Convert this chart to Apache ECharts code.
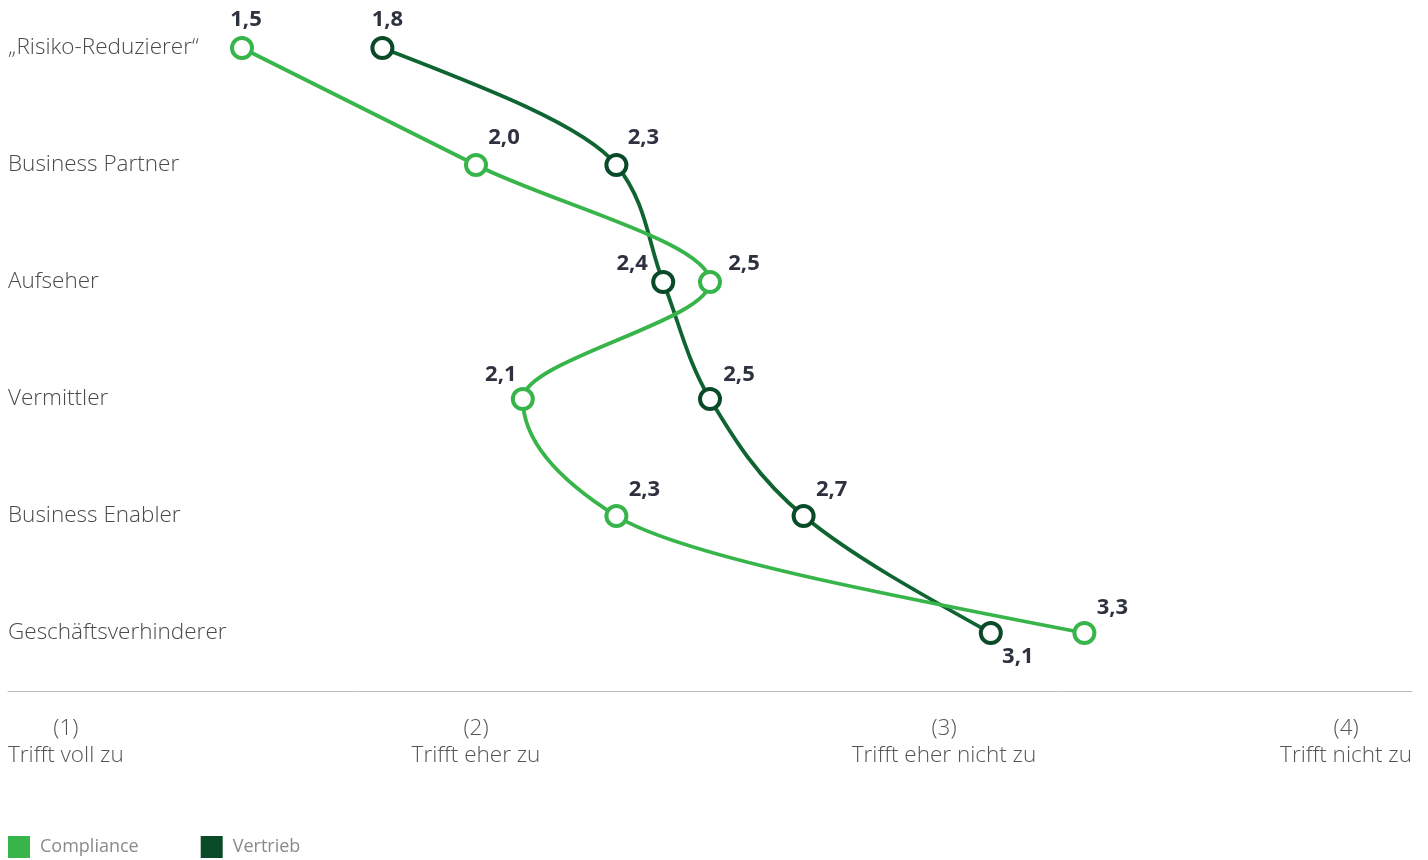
<!DOCTYPE html>
<html>
<head>
<meta charset="utf-8">
<title>Rollenbild Compliance</title>
<script src="https://cdn.jsdelivr.net/npm/echarts@6/dist/echarts.min.js"></script>
<style>
  html, body { margin: 0; padding: 0; background: #ffffff; }
  #chart { width: 1428px; height: 860px; }
</style>
</head>
<body>
<div id="chart"></div>
<script>
// Rollen (von oben nach unten)
const categories = [
  '\u201ERisiko-Reduzierer\u201C',
  'Business Partner',
  'Aufseher',
  'Vermittler',
  'Business Enabler',
  'Gesch\u00E4ftsverhinderer'
];

// Mittelwerte je Rolle
const complianceValues = [1.5, 2.0, 2.5, 2.1, 2.3, 3.3];
const vertriebValues   = [1.8, 2.3, 2.4, 2.5, 2.7, 3.1];

// Skala 1–4
const tickNumbers = ['(1)', '(2)', '(3)', '(4)'];
const tickLabels  = ['Trifft voll zu', 'Trifft eher zu', 'Trifft eher nicht zu', 'Trifft nicht zu'];

const seriesNames = ['Compliance', 'Vertrieb'];

const COLOR_COMPLIANCE = '#38b54a';
const COLOR_VERTRIEB_LINE = '#0f6531';
const COLOR_VERTRIEB = '#0b4a29';
const FONT = '"Open Sans", "Noto Sans", sans-serif';

// Wertelabel-Versatz je Punkt [dx, dy] relativ zum Symbol
const complianceLabelShift = [[4, -28], [28, -27], [34, -18], [-22, -24], [28, -26], [28, -25]];
const vertriebLabelShift   = [[5, -28], [27, -27], [-31, -18], [29, -24], [28, -26], [27, 24]];

function fmt(v) {
  return v.toFixed(1).replace('.', ',');
}

// Monotone kubische Interpolation entlang der (vertikalen) Kategorieachse
function signOf(x) { return x < 0 ? -1 : 1; }

function monotoneSegments(pts) {
  const n = pts.length;
  const t = new Array(n).fill(0);
  for (let i = 1; i < n - 1; i++) {
    const h0 = pts[i][1] - pts[i - 1][1];
    const h1 = pts[i + 1][1] - pts[i][1];
    const s0 = (pts[i][0] - pts[i - 1][0]) / h0;
    const s1 = (pts[i + 1][0] - pts[i][0]) / h1;
    const p = (s0 * h1 + s1 * h0) / (h0 + h1);
    t[i] = (signOf(s0) + signOf(s1)) * Math.min(Math.abs(s0), Math.abs(s1), 0.5 * Math.abs(p)) || 0;
  }
  if (n > 2) {
    const hA = pts[1][1] - pts[0][1];
    t[0] = (3 * (pts[1][0] - pts[0][0]) / hA - t[1]) / 2;
    const hB = pts[n - 1][1] - pts[n - 2][1];
    t[n - 1] = (3 * (pts[n - 1][0] - pts[n - 2][0]) / hB - t[n - 2]) / 2;
  }
  const segs = [];
  for (let i = 0; i < n - 1; i++) {
    const a = pts[i], b = pts[i + 1];
    const d = (b[1] - a[1]) / 3;
    segs.push({
      x1: a[0], y1: a[1],
      cpx1: a[0] + d * t[i], cpy1: a[1] + d,
      cpx2: b[0] - d * t[i + 1], cpy2: b[1] - d,
      x2: b[0], y2: b[1]
    });
  }
  return segs;
}

function curveSeries(name, values, color, z) {
  return {
    name: name,
    type: 'custom',
    z: z,
    clip: false,
    silent: true,
    encode: { x: 0, y: 1 },
    data: values.map(function (v, i) { return [v, i]; }),
    renderItem: function (params, api) {
      if (params.dataIndexInside !== 0) return null;
      const pts = [];
      for (let j = 0; j < params.dataInsideLength; j++) {
        pts.push(api.coord([api.value(0, j), j]));
      }
      return {
        type: 'group',
        children: monotoneSegments(pts).map(function (s) {
          return {
            type: 'bezierCurve',
            shape: s,
            style: { stroke: color, lineWidth: 3.8, fill: null, lineCap: 'round' }
          };
        })
      };
    }
  };
}

function pointSeries(name, values, shifts, color, z) {
  return {
    name: name,
    type: 'line',
    z: z,
    data: values.map(function (v, i) {
      return { value: v, label: { offset: shifts[i] } };
    }),
    symbol: 'circle',
    symbolSize: 20,
    itemStyle: { color: '#ffffff', borderColor: color, borderWidth: 4 },
    lineStyle: { opacity: 0 },
    label: {
      show: true,
      position: 'inside',
      formatter: function (p) { return fmt(p.value); },
      fontFamily: FONT,
      fontWeight: 'bold',
      fontSize: 22,
      color: '#2e3140'
    },
    emphasis: { disabled: true }
  };
}

const chart = echarts.init(document.getElementById('chart'));

chart.setOption({
  animation: false,
  backgroundColor: '#ffffff',
  grid: { left: 8, right: 16, top: 48, bottom: 227, containLabel: false },
  legend: {
    data: [
      { name: seriesNames[0], itemStyle: { color: COLOR_COMPLIANCE, borderWidth: 0 } },
      { name: seriesNames[1], itemStyle: { color: COLOR_VERTRIEB, borderWidth: 0 } }
    ],
    left: 3,
    top: 831,
    icon: 'rect',
    itemWidth: 22,
    itemHeight: 22,
    itemGap: 62,
    textStyle: { fontFamily: FONT, fontSize: 18, color: '#8a8a8a', padding: [0, 0, 0, 5] },
    selectedMode: false
  },
  xAxis: {
    type: 'value',
    min: 1,
    max: 4,
    interval: 1,
    offset: 58,
    axisLine: { show: true, lineStyle: { color: '#bdbdbd', width: 1 } },
    axisTick: { show: false },
    splitLine: { show: false },
    axisLabel: {
      margin: 24,
      alignMinLabel: 'left',
      alignMaxLabel: 'right',
      formatter: function (v) {
        const i = Math.round(v) - 1;
        return '{n|' + tickNumbers[i] + '}\n{t|' + tickLabels[i] + '}';
      },
      rich: {
        n: { fontFamily: FONT, fontWeight: 300, fontSize: 22.5, color: '#555555', lineHeight: 27, align: 'center' },
        t: { fontFamily: FONT, fontWeight: 300, fontSize: 22.5, color: '#555555', lineHeight: 27, align: 'center' }
      }
    }
  },
  yAxis: {
    type: 'category',
    data: categories,
    inverse: true,
    boundaryGap: false,
    axisLine: { show: false },
    axisTick: { show: false },
    splitLine: { show: false },
    axisLabel: {
      inside: true,
      margin: 0,
      align: 'left',
      fontFamily: FONT,
      fontWeight: 300,
      fontSize: 22.5,
      color: '#4a4a4a'
    }
  },
  series: [
    curveSeries(seriesNames[1], vertriebValues, COLOR_VERTRIEB_LINE, 1),
    curveSeries(seriesNames[0], complianceValues, COLOR_COMPLIANCE, 2),
    pointSeries(seriesNames[1], vertriebValues, vertriebLabelShift, COLOR_VERTRIEB, 3),
    pointSeries(seriesNames[0], complianceValues, complianceLabelShift, COLOR_COMPLIANCE, 4)
  ]
});
</script>
</body>
</html>
